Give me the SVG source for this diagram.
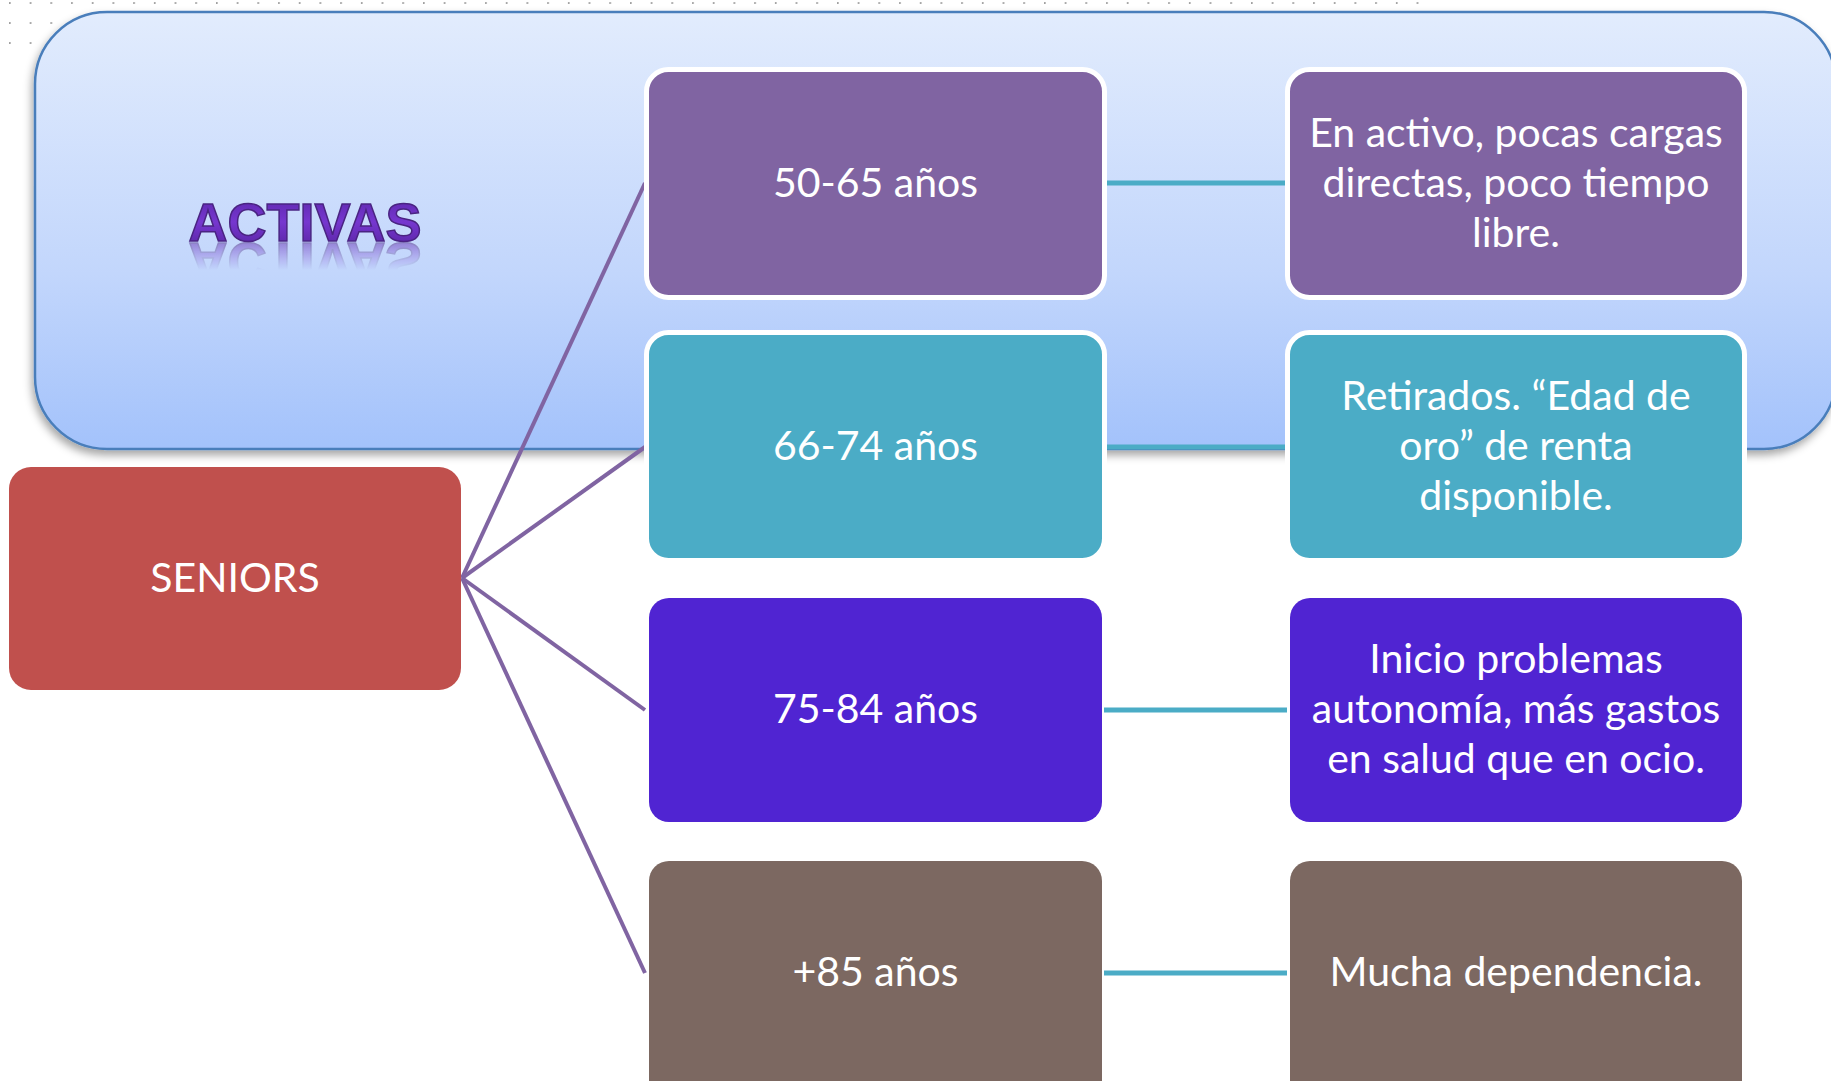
<svg xmlns="http://www.w3.org/2000/svg" xmlns:xlink="http://www.w3.org/1999/xlink" width="1831" height="1081" viewBox="0 0 1831 1081">
  <defs>
    <linearGradient id="blueGrad" x1="0" y1="0" x2="0" y2="1">
      <stop offset="0" stop-color="#e2ecfd"/>
      <stop offset="0.6" stop-color="#c2d6fc"/>
      <stop offset="1" stop-color="#a3c2fb"/>
    </linearGradient>
    <linearGradient id="titleGrad" x1="0" y1="0" x2="0" y2="1">
      <stop offset="0" stop-color="#5a25a8"/>
      <stop offset="0.5" stop-color="#7637cf"/>
      <stop offset="1" stop-color="#55229e"/>
    </linearGradient>
    <linearGradient id="fadeGrad" x1="0" y1="0" x2="0" y2="1">
      <stop offset="0" stop-color="#ffffff" stop-opacity="0.5"/>
      <stop offset="1" stop-color="#ffffff" stop-opacity="0"/>
    </linearGradient>
    <mask id="reflMask" maskUnits="userSpaceOnUse" x="150" y="241" width="320" height="40">
      <rect x="150" y="242" width="320" height="28" fill="url(#fadeGrad)"/>
    </mask>
    <filter id="shadow" x="-5%" y="-10%" width="110%" height="125%">
      <feDropShadow dx="-2" dy="5" stdDeviation="4" flood-color="#000" flood-opacity="0.35"/>
    </filter>
    <pattern id="dots" x="9" y="0" width="20.7" height="20" patternUnits="userSpaceOnUse">
      <circle cx="0.8" cy="3" r="1.1" fill="#9a9a9a"/>
    </pattern>
    <style>
      .lbl { font-family: Lato, "Open Sans", sans-serif; font-size: 41px; fill: #ffffff; text-anchor: middle; }
      .title { font-family: "Liberation Sans", Arial, sans-serif; font-weight: bold; font-size: 54px; text-anchor: middle; }
      .spoke { stroke: #8064a2; stroke-width: 4; fill: none; }
      .link { stroke: #4bacc6; stroke-width: 5; fill: none; }
      .box { stroke: #ffffff; stroke-width: 5; }
    </style>
  </defs>

  <rect x="0" y="0" width="1831" height="1081" fill="#ffffff"/>
  <!-- dotted background -->
  <rect x="9" y="0" width="1410" height="7" fill="url(#dots)"/>
  <rect x="9" y="20" width="50" height="7" fill="url(#dots)"/>
  <rect x="9" y="40" width="30" height="7" fill="url(#dots)"/>

  <!-- ACTIVAS container -->
  <g id="activas">
    <rect x="35" y="12" width="1801" height="437" rx="72" ry="72" fill="url(#blueGrad)" stroke="#4a7ebb" stroke-width="2.5" filter="url(#shadow)"/>
    <text id="activasTxt" class="title" x="305" y="241" fill="url(#titleGrad)" stroke="#4a2482" stroke-width="1.5">ACTIVAS</text>
    <g mask="url(#reflMask)">
      <use href="#activasTxt" xlink:href="#activasTxt" transform="translate(0,484) scale(1,-1)"/>
    </g>
  </g>

  <!-- connectors -->
  <g id="connectors">
    <line class="spoke" x1="462" y1="578" x2="645" y2="183"/>
    <line class="spoke" x1="462" y1="578" x2="645" y2="447"/>
    <line class="spoke" x1="462" y1="578" x2="645" y2="710"/>
    <line class="spoke" x1="462" y1="578" x2="645" y2="973"/>
    <line class="link" x1="1104" y1="183" x2="1287" y2="183"/>
    <line class="link" x1="1104" y1="447" x2="1287" y2="447"/>
    <line class="link" x1="1104" y1="710" x2="1287" y2="710"/>
    <line class="link" x1="1104" y1="973" x2="1287" y2="973"/>
  </g>

  <g id="seniors">
    <rect x="9" y="467" width="452" height="223" rx="22" ry="22" fill="#c0504d"/>
    <text class="lbl" x="235" y="592">SENIORS</text>
  </g>

  <g id="age-50-65">
    <rect class="box" x="646.5" y="69.5" width="458" height="228" rx="22" fill="#8064a2"/>
    <text class="lbl" x="875.5" y="197">50-65 años</text>
  </g>
  <g id="desc-50-65">
    <rect class="box" x="1287.5" y="69.5" width="457" height="228" rx="22" fill="#8064a2"/>
    <text class="lbl" x="1516" y="147">En activo, pocas cargas</text>
    <text class="lbl" x="1516" y="197">directas, poco tiempo</text>
    <text class="lbl" x="1516" y="247">libre.</text>
  </g>

  <g id="age-66-74">
    <rect class="box" x="646.5" y="332.5" width="458" height="228" rx="22" fill="#4bacc6"/>
    <text class="lbl" x="875.5" y="460">66-74 años</text>
  </g>
  <g id="desc-66-74">
    <rect class="box" x="1287.5" y="332.5" width="457" height="228" rx="22" fill="#4bacc6"/>
    <text class="lbl" x="1516" y="410">Retirados. “Edad de</text>
    <text class="lbl" x="1516" y="460">oro” de renta</text>
    <text class="lbl" x="1516" y="510">disponible.</text>
  </g>

  <g id="age-75-84">
    <rect x="649" y="598" width="453" height="224" rx="20" fill="#5024d2"/>
    <text class="lbl" x="875.5" y="723">75-84 años</text>
  </g>
  <g id="desc-75-84">
    <rect x="1290" y="598" width="452" height="224" rx="20" fill="#5024d2"/>
    <text class="lbl" x="1516" y="673">Inicio problemas</text>
    <text class="lbl" x="1516" y="723">autonomía, más gastos</text>
    <text class="lbl" x="1516" y="773">en salud que en ocio.</text>
  </g>

  <g id="age-85">
    <rect x="649" y="861" width="453" height="240" rx="20" fill="#7c6861"/>
    <text class="lbl" x="875.5" y="986">+85 años</text>
  </g>
  <g id="desc-85">
    <rect x="1290" y="861" width="452" height="240" rx="20" fill="#7c6861"/>
    <text class="lbl" x="1516" y="986">Mucha dependencia.</text>
  </g>
</svg>
